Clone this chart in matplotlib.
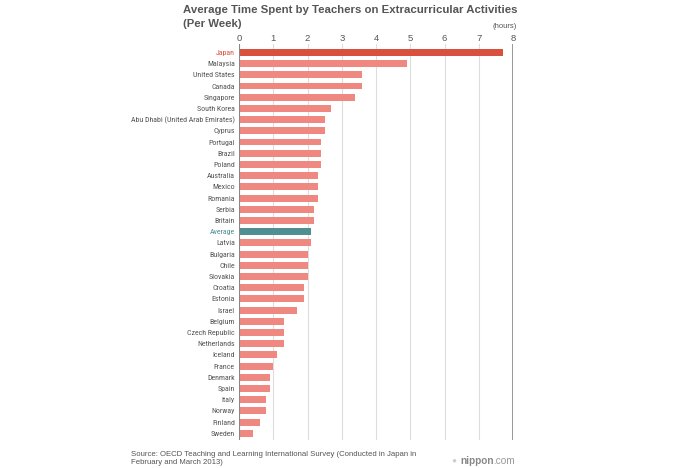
import matplotlib.pyplot as plt
from matplotlib import font_manager

countries = [
    "Japan", "Malaysia", "United States", "Canada", "Singapore", "South Korea",
    "Abu Dhabi (United Arab Emirates)", "Cyprus", "Portugal", "Brazil", "Poland",
    "Australia", "Mexico", "Romania", "Serbia", "Britain", "Average", "Latvia",
    "Bulgaria", "Chile", "Slovakia", "Croatia", "Estonia", "Israel", "Belgium",
    "Czech Republic", "Netherlands", "Iceland", "France", "Denmark", "Spain",
    "Italy", "Norway", "Finland", "Sweden",
]
hours = [
    7.7, 4.9, 3.6, 3.6, 3.4, 2.7,
    2.5, 2.5, 2.4, 2.4, 2.4,
    2.3, 2.3, 2.3, 2.2, 2.2, 2.1, 2.1,
    2.0, 2.0, 2.0, 1.9, 1.9, 1.7, 1.3,
    1.3, 1.3, 1.1, 1.0, 0.9, 0.9,
    0.8, 0.8, 0.6, 0.4,
]
x_ticks = [0, 1, 2, 3, 4, 5, 6, 7, 8]

# condensed face for the country labels if one is around
available = {f.name for f in font_manager.fontManager.ttflist}
label_font = "Liberation Sans"
for cand in ["Roboto Condensed", "Archivo Narrow", "Liberation Sans Narrow", "Barlow Semi Condensed"]:
    if cand in available:
        label_font = cand
        break
plt.rcParams["font.family"] = ["Liberation Sans", "DejaVu Sans"]

JAPAN_RED = "#d9503f"
BAR_SALMON = "#ef8880"
AVG_TEAL = "#4f8f92"
TEXT_GRAY = "#555555"

fig = plt.figure(figsize=(7.0, 4.68), dpi=100)
ax = fig.add_axes([239 / 700, 1 - 440 / 468, (513 - 239) / 700, (440 - 44) / 468])

colors = []
for c in countries:
    if c == "Japan":
        colors.append(JAPAN_RED)
    elif c == "Average":
        colors.append(AVG_TEAL)
    else:
        colors.append(BAR_SALMON)

ypos = list(range(len(countries)))
ax.barh(ypos, hours, height=0.62, color=colors, zorder=3)

ax.set_xlim(0, 8)
ax.set_ylim(len(countries) - 0.4, -0.75)
ax.xaxis.tick_top()
ax.set_xticks(x_ticks)
ax.set_xticklabels([str(t) for t in x_ticks], fontsize=6.8, color=TEXT_GRAY)
ax.tick_params(axis="x", length=0, pad=0.5)
ax.grid(axis="x", color="#dddddd", linewidth=0.8, zorder=0)
ax.axvline(8, color="#888888", linewidth=1.2, zorder=2)
ax.axvline(0, color="#888888", linewidth=0.8, zorder=4)

ax.set_yticks(ypos)
ax.set_yticklabels(countries, fontsize=7, family=[label_font, "DejaVu Sans"])
ax.tick_params(axis="y", length=0, pad=3)
for lbl in ax.get_yticklabels():
    t = lbl.get_text()
    if t == "Japan":
        lbl.set_color(JAPAN_RED)
    elif t == "Average":
        lbl.set_color(AVG_TEAL)
    else:
        lbl.set_color(TEXT_GRAY)

for s in ax.spines.values():
    s.set_visible(False)

# shrink labels so the longest one is about as wide as in the original (~104 px)
renderer = fig.canvas.get_renderer()
longest = max(ax.get_yticklabels(), key=lambda l: l.get_window_extent(renderer).width)
w = longest.get_window_extent(renderer).width
size = min(7.0, 7.0 * 104 / w)
for lbl in ax.get_yticklabels():
    lbl.set_fontsize(size)

# title as two separate lines so the second one stays short
fig.text(183 / 700, 1 - 10 / 468,
         "Average Time Spent by Teachers on Extracurricular Activities",
         ha="left", va="center", fontsize=8.2, fontweight="bold", color="#555555")
fig.text(183 / 700, 1 - 24 / 468, "(Per Week)",
         ha="left", va="center", fontsize=8.2, fontweight="bold", color="#555555")
fig.text(517 / 700, 1 - 27 / 468, "(hours)", ha="right", va="center",
         fontsize=5.5, color=TEXT_GRAY)

fig.text(131 / 700, 1 - 451 / 468,
         "Source: OECD Teaching and Learning International Survey (Conducted in Japan in\nFebruary and March 2013)",
         ha="left", va="top", fontsize=5.6, color="#555555", linespacing=1.25)
fig.text(451 / 700, 1 - 461 / 468, "\u25CF", ha="left", va="center",
         fontsize=6, color="#cccccc")
nip = fig.text(460 / 700, 1 - 461 / 468, "nippon", ha="left", va="center",
               fontsize=7.2, fontweight="bold", color="#888888")
bb = nip.get_window_extent(renderer)
fig.text(bb.x1 / 700, 1 - 461 / 468, ".com", ha="left", va="center",
         fontsize=7.2, color="#999999")

fig.savefig("out.png", dpi=100, facecolor="white")
